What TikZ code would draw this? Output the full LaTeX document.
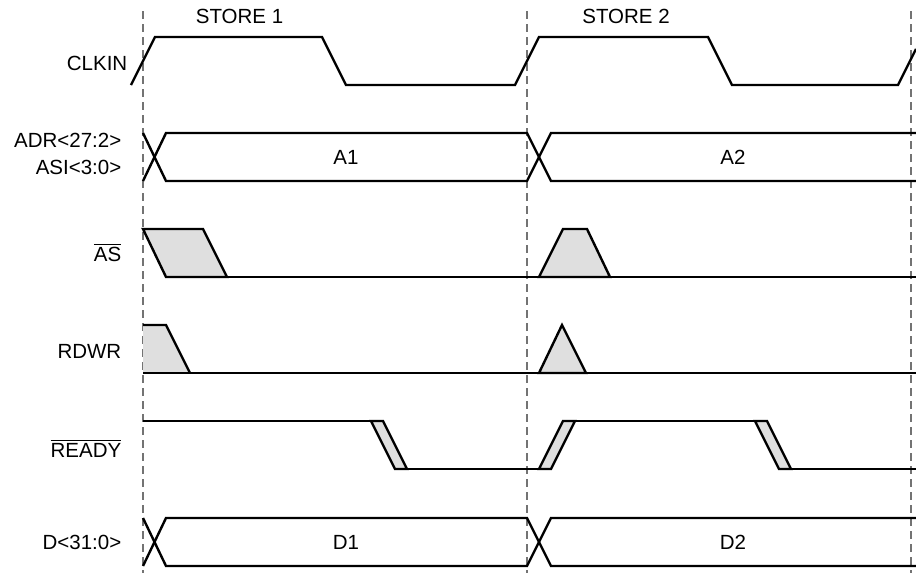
\documentclass[tikz,border=0pt]{standalone}
\usepackage{fontspec}
\setmainfont{Liberation Sans}
\newcommand{\olbar}[1]{\begingroup\setbox0\hbox{#1}\rlap{\raisebox{\dimexpr\ht0+2.2pt\relax}{\rule{\wd0}{1pt}}}\box0\endgroup}
\begin{document}
\begin{tikzpicture}[x=1pt,y=-1pt,
  wave/.style={line width=2.4pt,black},
  guide/.style={line width=1.3pt,black!55,dash pattern=on 8pt off 5pt},
  pulse/.style={wave,fill=gray!25},
  lbl/.style={anchor=base east,inner sep=0pt,font=\fontsize{20.5}{24.6}\selectfont},
  txt/.style={anchor=base,inner sep=0pt,font=\fontsize{20.5}{24.6}\selectfont}]
\useasboundingbox (0,0) rectangle (916,573);
% guides
\draw[guide] (143,11) -- (143,573);
\draw[guide] (527,11) -- (527,573);
\draw[guide] (911,11) -- (911,573);
% labels
\node[txt] (s1) at (239.5,23) {STORE 1};
\node[txt] (s2) at (626,23) {STORE 2};
\node[lbl] (clk) at (127.5,70) {CLKIN};
\node[lbl] (adr) at (121.5,147) {ADR<27:2>};
\node[lbl] (asi) at (121.5,174) {ASI<3:0>};
\node[lbl] (as) at (121.5,261.7) {\olbar{AS}};
\node[lbl] (rdwr) at (121.5,358) {RDWR};
\node[lbl] (ready) at (121.5,457) {\olbar{READY}};
\node[lbl] (dat) at (121.5,549.5) {D<31:0>};
\node[txt] (a1) at (346,164.5) {A1};
\node[txt] (a2) at (733,164.5) {A2};
\node[txt] (d1) at (346,549.5) {D1};
\node[txt] (d2) at (733,549.5) {D2};
% CLKIN
\draw[wave] (131,85) -- (155,37) -- (322,37) -- (346,85) -- (515,85) -- (539,37) -- (708,37) -- (732,85) -- (898,85) -- (916,49);
% ADR
\draw[wave] (143,133) -- (166,181) -- (527,181) -- (551,133) -- (916,133);
\draw[wave] (143,181) -- (166,133) -- (527,133) -- (551,181) -- (916,181);
% AS
\draw[pulse] (143,229) -- (203,229) -- (227,277) -- (166,277) -- cycle;
\draw[pulse] (539,277) -- (563,229) -- (587,229) -- (610,277) -- cycle;
\draw[wave] (166,277) -- (916,277);
% RDWR
\fill[gray!25] (143,325) -- (166,325) -- (190,373) -- (143,373) -- cycle;
\draw[wave] (143,325) -- (166,325) -- (190,373);
\draw[pulse] (539,373) -- (562,325) -- (586,373) -- cycle;
\draw[wave] (143,373) -- (916,373);
% READY
\draw[wave] (143,421) -- (371,421);
\draw[pulse] (371,421) -- (383,421) -- (407,469) -- (395,469) -- cycle;
\draw[wave] (407,469) -- (539,469);
\draw[pulse] (539,469) -- (551,469) -- (575,421) -- (563,421) -- cycle;
\draw[wave] (575,421) -- (755,421);
\draw[pulse] (755,421) -- (767,421) -- (791,469) -- (779,469) -- cycle;
\draw[wave] (791,469) -- (916,469);
% D
\draw[wave] (143,518) -- (166,566) -- (527,566) -- (551,518) -- (916,518);
\draw[wave] (143,566) -- (166,518) -- (527,518) -- (551,566) -- (916,566);
\end{tikzpicture}
\end{document}
